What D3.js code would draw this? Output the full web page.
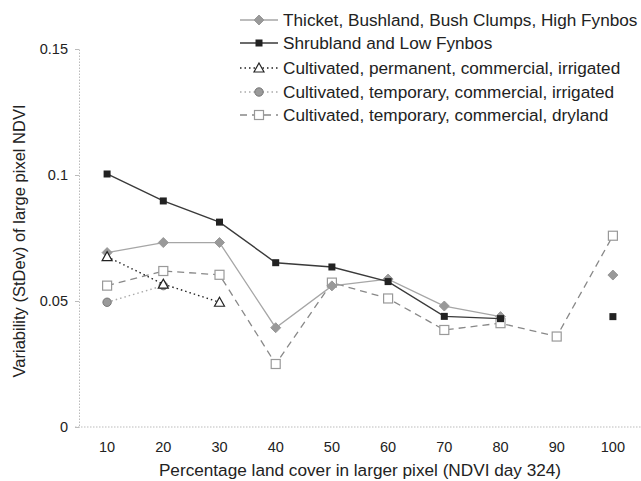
<!DOCTYPE html>
<html>
<head>
<meta charset="utf-8">
<script src="https://cdn.jsdelivr.net/npm/d3@7"></script>
<style>
  html, body { margin: 0; padding: 0; background: #fff; }
  svg { display: block; font-family: "Liberation Sans", Arial, sans-serif; }
</style>
</head>
<body>
<svg id="chart" width="641" height="481"></svg>
<script>
// Percentage land cover categories
const categories = [10, 20, 30, 40, 50, 60, 70, 80, 90, 100];
// Y-axis tick values and labels
const yTicks = [0, 0.05, 0.1, 0.15];
const yTickLabels = ["0", "0.05", "0.1", "0.15"];

// StDev of large pixel NDVI per land cover class (null = no data)
const thicket      = [0.0692, 0.0732, 0.0732, 0.0394, 0.0560, 0.0587, 0.0480, 0.0438, null, 0.0603];
const shrubland    = [0.1004, 0.0897, 0.0813, 0.0652, 0.0635, 0.0577, 0.0439, 0.0430, null, 0.0438];
const permIrrig    = [0.0676, 0.0567, 0.0495, null, null, null, null, null, null, null];
const tempIrrig    = [0.0495, 0.0561, null, null, null, null, null, null, null, null];
const tempDryland  = [0.0561, 0.0619, 0.0604, 0.0250, 0.0573, 0.0510, 0.0385, 0.0412, 0.0359, 0.0759];

const seriesNames = [
  "Thicket, Bushland, Bush Clumps, High Fynbos",
  "Shrubland and Low Fynbos",
  "Cultivated, permanent, commercial, irrigated",
  "Cultivated, temporary, commercial, irrigated",
  "Cultivated, temporary, commercial, dryland"
];

const series = [
  { name: seriesNames[0], values: thicket, line: "#a6a6a6", width: 1.3, dash: null, marker: "diamond", fill: "#999", stroke: "#999" },
  { name: seriesNames[1], values: shrubland, line: "#3a3a3a", width: 1.4, dash: null, marker: "square", fill: "#222", stroke: "#222" },
  { name: seriesNames[2], values: permIrrig, line: "#222", width: 1.4, dash: "1.5,3", marker: "triangle", fill: "#fff", stroke: "#222" },
  { name: seriesNames[3], values: tempIrrig, line: "#aaa", width: 1.4, dash: "1.5,3", marker: "circle", fill: "#9a9a9a", stroke: "#777" },
  { name: seriesNames[4], values: tempDryland, line: "#888", width: 1.3, dash: "7,5", marker: "osquare", fill: "#fff", stroke: "#999" }
];

const svg = d3.select("#chart");
const plot = { left: 79, right: 641, top: 49, bottom: 427 };

const x = d3.scaleBand().domain(categories).range([plot.left, plot.right]).padding(0);
const cx = v => x(v) + x.bandwidth() / 2;
const y = d3.scaleLinear().domain([0, 0.15]).range([plot.bottom, plot.top]);

// Axes (dotted light grey lines)
const yAxis = d3.axisLeft(y).tickValues(yTicks).tickFormat((d, i) => yTickLabels[i]).tickSize(4).tickPadding(7);
const gy = svg.append("g").attr("transform", `translate(${plot.left},0)`).call(yAxis);
gy.select(".domain").attr("stroke", "#bbb").attr("stroke-dasharray", "1.5,1.5");
gy.selectAll(".tick line").attr("stroke", "#bbb");
gy.selectAll(".tick text").attr("font-size", 14.5).attr("fill", "#222").attr("font-family", "Liberation Sans, Arial, sans-serif");

const xAxis = d3.axisBottom(x).tickSize(0).tickPadding(15);
const gx = svg.append("g").attr("transform", `translate(0,${plot.bottom})`).call(xAxis);
gx.select(".domain").attr("stroke", "#bbb").attr("stroke-dasharray", "1.5,1.5")
  .attr("d", `M${plot.left - 4},0H${plot.right}`);
gx.selectAll(".tick text").attr("font-size", 14.5).attr("fill", "#222").attr("font-family", "Liberation Sans, Arial, sans-serif");

// Axis titles
svg.append("text")
  .attr("x", 360).attr("y", 476)
  .attr("text-anchor", "middle").attr("font-size", 17.2).attr("fill", "#222")
  .text("Percentage land cover in larger pixel (NDVI day 324)");
svg.append("text")
  .attr("transform", "translate(25,241) rotate(-90)")
  .attr("text-anchor", "middle").attr("font-size", 16.5).attr("fill", "#222")
  .text("Variability (StDev) of large pixel NDVI");

// Marker drawing
function drawMarker(g, s, px, py) {
  if (s.marker === "diamond") {
    g.append("path").attr("d", `M${px},${py - 5}L${px + 5},${py}L${px},${py + 5}L${px - 5},${py}Z`)
      .attr("fill", s.fill).attr("stroke", s.stroke);
  } else if (s.marker === "square") {
    g.append("rect").attr("x", px - 3.5).attr("y", py - 3.5).attr("width", 7).attr("height", 7)
      .attr("fill", s.fill);
  } else if (s.marker === "triangle") {
    g.append("path").attr("d", `M${px},${py - 5}L${px + 5},${py + 4}L${px - 5},${py + 4}Z`)
      .attr("fill", s.fill).attr("stroke", s.stroke).attr("stroke-width", 1.2);
  } else if (s.marker === "circle") {
    g.append("circle").attr("cx", px).attr("cy", py).attr("r", 4.2)
      .attr("fill", s.fill).attr("stroke", s.stroke);
  } else if (s.marker === "osquare") {
    g.append("rect").attr("x", px - 4.5).attr("y", py - 4.5).attr("width", 9).attr("height", 9)
      .attr("fill", s.fill).attr("stroke", s.stroke).attr("stroke-width", 1.2);
  }
}

const line = d3.line()
  .defined(d => d.v !== null)
  .x(d => cx(d.c))
  .y(d => y(d.v));

// Draw series back to front
const drawOrder = [4, 0, 1, 3, 2];
drawOrder.forEach(i => {
  const s = series[i];
  const pts = categories.map((c, j) => ({ c, v: s.values[j] }));
  const g = svg.append("g");
  g.append("path").datum(pts).attr("d", line)
    .attr("fill", "none").attr("stroke", s.line).attr("stroke-width", s.width)
    .attr("stroke-dasharray", s.dash);
  pts.filter(d => d.v !== null).forEach(d => drawMarker(g, s, cx(d.c), y(d.v)));
});

// Legend
const legendRows = [20, 43, 68, 92, 115];
series.forEach((s, i) => {
  const ly = legendRows[i];
  const g = svg.append("g");
  g.append("line").attr("x1", 240).attr("x2", 278).attr("y1", ly).attr("y2", ly)
    .attr("stroke", s.line).attr("stroke-width", s.width).attr("stroke-dasharray", s.dash);
  drawMarker(g, s, 259, ly);
  g.append("text").attr("x", 283).attr("y", ly + 6)
    .attr("font-size", 17.2).attr("fill", "#222").text(s.name);
});
</script>
</body>
</html>
